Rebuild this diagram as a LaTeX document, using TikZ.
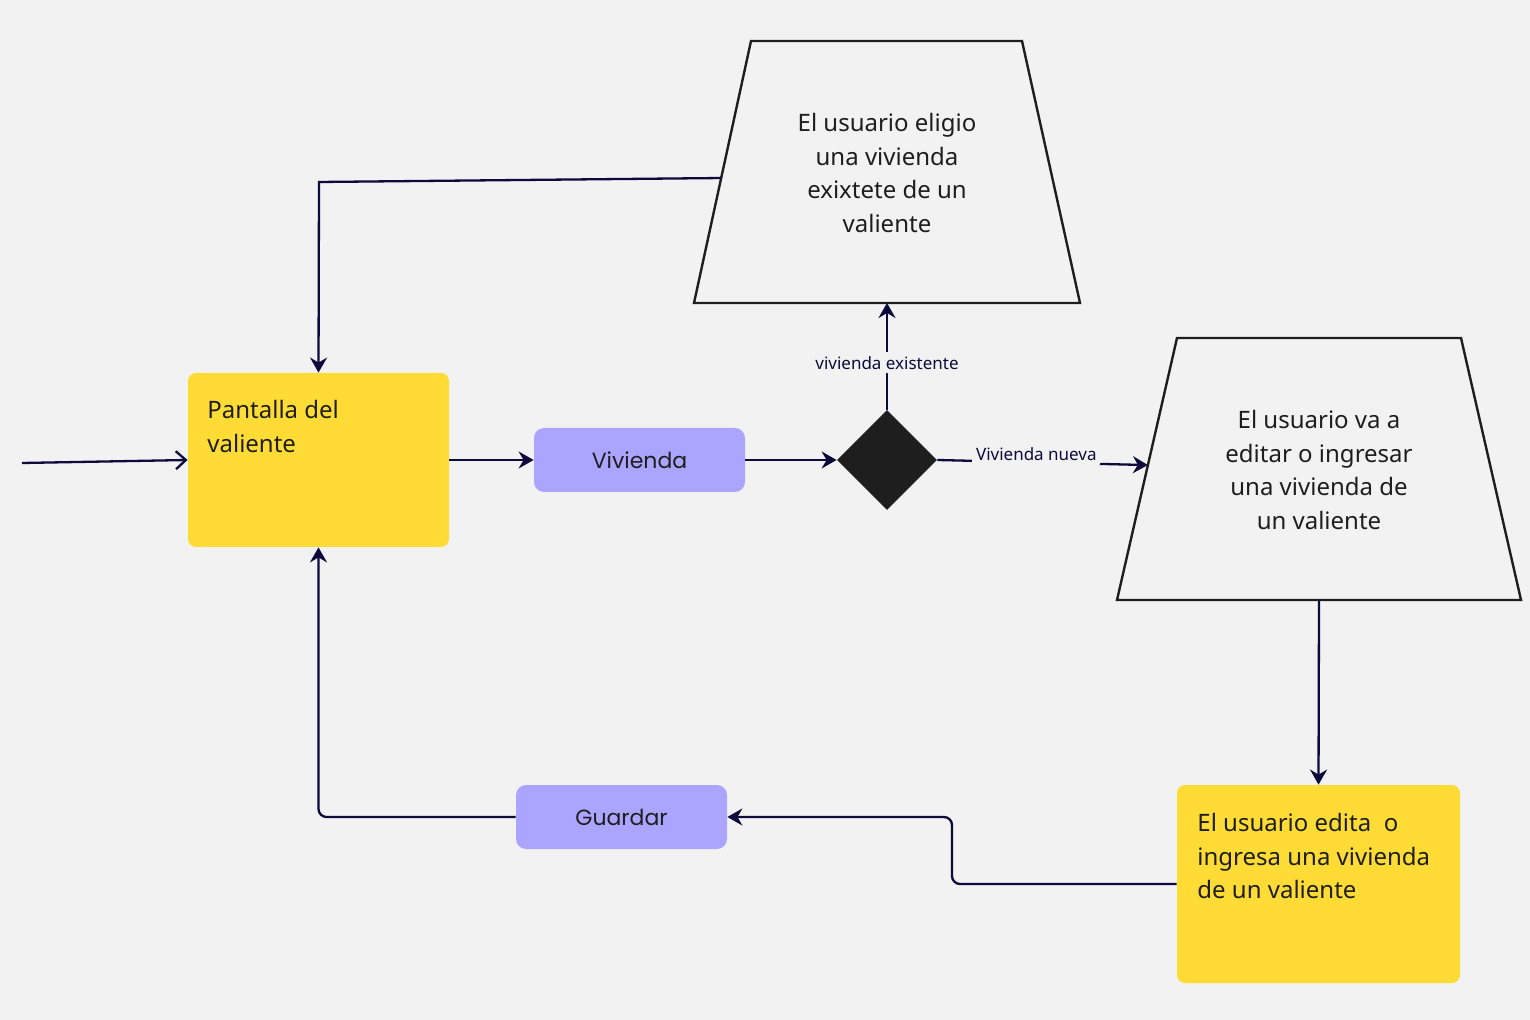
\documentclass[tikz,border=0pt]{standalone}
\usepackage{fontspec}
\setmainfont{Noto Sans}
\newfontfamily\btnfont{Poppins}
\usetikzlibrary{arrows.meta,shapes.geometric,calc}
\definecolor{bg}{HTML}{F2F2F2}
\definecolor{noteyellow}{HTML}{FFDC35}
\definecolor{btnpurple}{HTML}{ABA5FF}
\definecolor{navy}{HTML}{0D0A3C}
\definecolor{ink}{HTML}{1E1E1E}
\begin{document}
\begin{tikzpicture}[x=0.5pt,y=-0.5pt,
  note/.style={fill=noteyellow, rounded corners=4pt, inner sep=0pt},
  btn/.style={fill=btnpurple, rounded corners=5pt, inner sep=0pt,
    minimum width=105.5pt, minimum height=32pt,
    font=\btnfont\fontsize{11}{14}\selectfont, text=ink},
  body/.style={text=ink, font=\fontsize{12}{16.75}\selectfont, inner sep=0pt},
  trap/.style={draw=ink, line width=1.2pt, line join=miter},
  conn/.style={draw=navy, line width=1.15pt, rounded corners=4pt,
    -{Stealth[length=7.5pt,width=8.5pt,inset=2.5pt]}},
  lbl/.style={fill=bg, text=navy, font=\fontsize{8.5}{10}\selectfont,
    inner xsep=2pt, inner ysep=4pt},
  decision/.style={diamond, fill=ink, inner sep=0pt, minimum width=50pt, minimum height=50pt}
]
% canvas
\fill[bg] (0,0) rectangle (1530,1020);
\useasboundingbox (0,0) rectangle (1530,1020);

% yellow notes
\node[note, minimum width=130.5pt, minimum height=87pt] (pant) at (318.5,460) {};
\node[body, anchor=north west, align=left] (pantxt) at (207,400) {Pantalla del\\valiente};

\node[note, minimum width=141.5pt, minimum height=99pt] (edit) at (1318.5,884) {};
\node[body, anchor=north west, align=left] (edittxt) at (1197,813)
  {El usuario edita\ \ o\\ingresa una vivienda\\de un valiente};

% buttons
\node[btn] (viv) at (639.5,460) {Vivienda};
\node[btn] (guard) at (621.5,817) {Guardar};

% decision
\node[decision] (dec) at (887,460) {};

% upper trapezoid
\coordinate (t1tl) at (751,41);
\coordinate (t1tr) at (1022,41);
\coordinate (t1br) at (1080,303);
\coordinate (t1bl) at (694,303);
\draw[trap] (t1tl) -- (t1tr) -- (t1br) -- (t1bl) -- cycle;
\node[body, align=center] (t1txt) at (887,173)
  {El usuario eligio\\una vivienda\\exixtete de un\\valiente};
\coordinate (t1bot) at (887,303);
\coordinate (t1left) at ($(t1tl)!0.523!(t1bl)$);

% right trapezoid
\coordinate (t2tl) at (1177,338);
\coordinate (t2tr) at (1461,338);
\coordinate (t2br) at (1521,600);
\coordinate (t2bl) at (1117,600);
\draw[trap] (t2tl) -- (t2tr) -- (t2br) -- (t2bl) -- cycle;
\node[body, align=center] (t2txt) at (1319,470)
  {El usuario va a\\editar o ingresar\\una vivienda de\\un valiente};
\coordinate (t2bot) at (1319,600);
\coordinate (t2left) at ($(t2tl)!0.485!(t2bl)$);

% connectors
\coordinate (entry) at (22,463);
\draw[draw=navy, line width=1.15pt, -{Straight Barb[length=5pt,width=9pt,line width=1.15pt]}]
  (entry) -- (pant.west);
\draw[conn] (pant.east) -- (viv.west);
\draw[conn] (viv.east) -- (dec.west);
\draw[conn] (dec.north) -- node[lbl, pos=0.44, inner ysep=2pt] {vivienda existente} (t1bot);
\draw[conn] (dec.east) -- node[lbl, pos=0.47, yshift=4pt] {Vivienda nueva} (t2left);

\coordinate (k1) at (319,182);
\draw[conn, rounded corners=0pt] (t1left) -- (k1) -- (pant.north);
\draw[conn] (t2bot) -- (edit.north);

\coordinate (k2) at (952,884);
\coordinate (k3) at (952,817);
\draw[conn] (edit.west) -- (k2) -- (k3) -- (guard.east);

\coordinate (k4) at (318.5,817);
\draw[conn] (guard.west) -- (k4) -- (pant.south);
\end{tikzpicture}
\end{document}
